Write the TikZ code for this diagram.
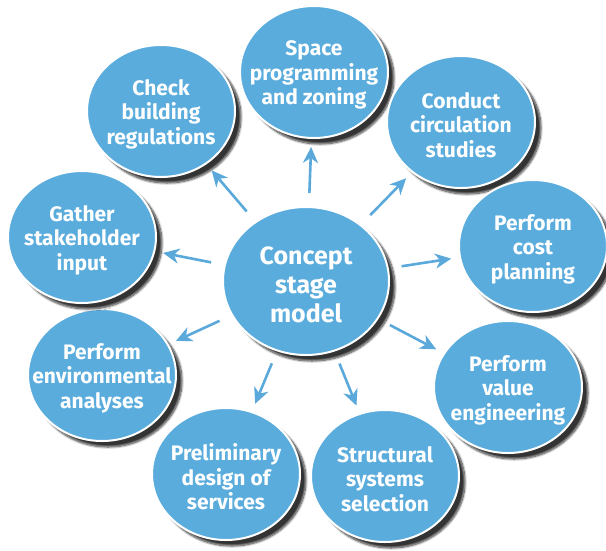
\documentclass[tikz,border=0pt]{standalone}
\usepackage{fontspec}
\setmainfont{Fira Sans}
\usetikzlibrary{arrows.meta,shapes.geometric,shadows.blur}
\definecolor{Sky}{HTML}{5AACDD}
\definecolor{SkyLine}{HTML}{5AA9DA}

\tikzset{
  bubble/.style={ellipse,draw=white,line width=2pt,fill=Sky,inner sep=0pt,
    blur shadow={shadow xshift=6pt,shadow yshift=-6pt,shadow blur steps=10,shadow opacity=80}},
  label/.style={text=white,align=center,yshift=-3pt,font=\bfseries\fontsize{21}{24.5}\selectfont},
  spoke/.style={SkyLine,line width=2.6pt,-{Stealth[length=16pt,width=15pt,inset=5pt]},
    shorten <=13pt,shorten >=8pt}
}

\begin{document}
\begin{tikzpicture}[x=1pt,y=-1pt]
\useasboundingbox (0,0) rectangle (606,550);
% outer bubbles
\foreach \n/\x/\y/\t in {
  space/314/72/{Space\\programming\\and zoning},
  circ/461/122/{Conduct\\circulation\\studies},
  cost/533/246/{Perform\\cost\\planning},
  value/508/387/{Perform\\value\\engineering},
  struct/385/476/{Structural\\systems\\selection},
  prelim/226/474/{Preliminary\\design of\\services},
  env/102/375/{Perform\\environmental\\analyses},
  gather/82/237/{Gather\\stakeholder\\input},
  check/161/111/{Check\\building\\regulations}}
  {\node[bubble,minimum width=148pt,minimum height=132pt] (\n) at (\x,\y) {};
   \node[label] (\n-t) at (\n) {\t};}
% centre
\node[bubble,minimum width=166pt,minimum height=148pt] (model) at (306,281) {};
\node[label,yshift=-0.5pt,font=\bfseries\fontsize{25}{29}\selectfont] (model-t) at (model) {Concept\\stage\\model};
\foreach \n in {space,circ,cost,value,struct,prelim,env,gather,check}
  \draw[spoke] (model) -- (\n);
\end{tikzpicture}
\end{document}
